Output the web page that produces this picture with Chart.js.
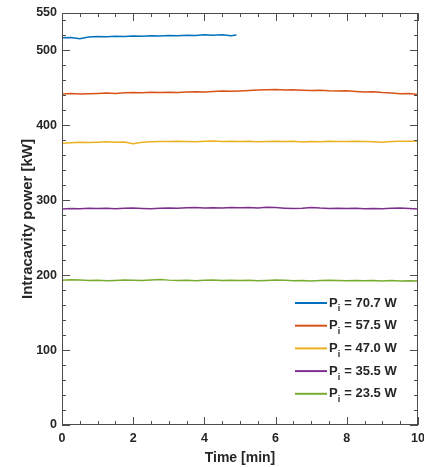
<!DOCTYPE html>
<html>
<head>
<meta charset="utf-8">
<script src="https://cdn.jsdelivr.net/npm/chart.js@4/dist/chart.umd.min.js"></script>
<style>
  html, body { margin: 0; padding: 0; background: #fff; }
  #wrap { width: 424px; height: 467px; }
</style>
</head>
<body>
<div id="wrap"><canvas id="powerChart"></canvas></div>
<script>
// time axis [min]
const times = [0, 0.25, 0.5, 0.75, 1, 1.25, 1.5, 1.75, 2, 2.25, 2.5, 2.75, 3, 3.25, 3.5, 3.75,
  4, 4.25, 4.5, 4.75, 5, 5.25, 5.5, 5.75, 6, 6.25, 6.5, 6.75, 7, 7.25, 7.5, 7.75,
  8, 8.25, 8.5, 8.75, 9, 9.25, 9.5, 9.75, 10];
const blueTimes = [0, 0.25, 0.5, 0.75, 1, 1.25, 1.5, 1.75, 2, 2.25, 2.5, 2.75, 3, 3.25, 3.5, 3.75,
  4, 4.25, 4.5, 4.75, 4.9];

// intracavity power [kW]
const p707 = [517.0, 517.4, 515.6, 517.9, 518.6, 518.2, 518.9, 518.5, 519.3, 519.0, 519.6, 519.2,
  520.1, 519.7, 520.4, 520.0, 520.8, 520.3, 520.9, 519.6, 520.6];
const p575 = [442.0, 442.4, 441.8, 442.3, 442.6, 443.1, 442.7, 443.4, 443.9, 443.5, 444.1, 443.8,
  444.3, 444.0, 444.6, 445.0, 444.7, 445.3, 445.8, 445.4, 446.0, 446.5, 447.1, 447.6,
  447.9, 447.3, 447.6, 447.0, 446.6, 446.9, 446.2, 445.8, 446.1, 445.3, 444.6, 444.9,
  443.8, 443.2, 442.1, 442.6, 441.2];
const p470 = [376.2, 376.8, 377.4, 377.0, 377.6, 378.1, 377.5, 377.9, 375.6, 377.4, 378.2, 378.6,
  378.3, 378.9, 378.5, 378.1, 378.7, 379.0, 378.6, 378.9, 378.3, 378.7, 378.0, 378.5,
  378.8, 378.4, 378.9, 377.8, 378.6, 378.2, 378.8, 378.3, 378.6, 378.9, 378.4, 378.1,
  377.6, 378.3, 378.7, 378.9, 379.2];
const p355 = [288.5, 289.0, 288.7, 289.3, 289.0, 289.4, 288.8, 289.2, 289.6, 289.1, 288.7, 289.4,
  289.8, 289.3, 289.9, 290.2, 289.6, 290.1, 289.7, 290.3, 290.0, 290.4, 289.8, 290.6,
  290.2, 289.5, 289.0, 289.4, 290.5, 289.6, 289.1, 289.5, 288.9, 289.3, 288.8, 289.1,
  288.6, 289.2, 289.7, 289.0, 288.4];
const p235 = [193.4, 193.9, 193.5, 192.9, 193.3, 192.6, 193.0, 193.5, 193.2, 192.8, 193.6, 194.2,
  193.4, 192.9, 193.3, 192.7, 193.1, 193.5, 192.9, 193.3, 192.8, 193.2, 192.6, 193.0,
  193.5, 193.1, 192.7, 193.0, 192.4, 192.9, 193.2, 192.8, 192.5, 193.0, 192.6, 192.9,
  192.4, 192.8, 192.3, 192.7, 192.2];

const seriesLabels = ['70.7', '57.5', '47.0', '35.5', '23.5'];
const seriesColors = ['#0072BD', '#D95319', '#EDB120', '#7E2F8E', '#77AC30'];

const xTickValues = [0, 2, 4, 6, 8, 10];
const yTickValues = [0, 100, 200, 300, 400, 500, 550];

const FONT = '"Liberation Sans", Arial, sans-serif';
const TEXT = '#262626';
const AXIS = '#4d4d4d';

function toPoints(xs, ys) {
  return ys.map((v, i) => ({ x: xs[i], y: v }));
}

// frame + inward ticks on all four sides
const frameTicks = {
  id: 'frameTicks',
  afterDatasetsDraw(chart) {
    const { ctx, chartArea: { left, right, top, bottom }, scales: { x, y } } = chart;
    ctx.save();
    ctx.strokeStyle = AXIS;
    ctx.lineWidth = 1;
    ctx.strokeRect(left + 0.5, top + 0.5, right - left - 1, bottom - top - 1);
    ctx.beginPath();
    for (let v = 0; v <= 10; v += 0.5) {
      const px = Math.round(x.getPixelForValue(v)) + 0.5;
      const len = v % 2 === 0 ? 8 : 4;
      ctx.moveTo(px, bottom); ctx.lineTo(px, bottom - len);
      ctx.moveTo(px, top); ctx.lineTo(px, top + len);
    }
    for (let v = 0; v <= 540; v += 20) {
      const py = Math.round(y.getPixelForValue(v)) + 0.5;
      const len = v % 100 === 0 ? 8 : 4;
      ctx.moveTo(left, py); ctx.lineTo(left + len, py);
      ctx.moveTo(right, py); ctx.lineTo(right - len, py);
    }
    ctx.stroke();
    ctx.restore();
  }
};

// legend with subscript "i"
const subLegend = {
  id: 'subLegend',
  afterDraw(chart) {
    const { ctx, chartArea: { right, bottom } } = chart;
    ctx.save();
    const x0 = right - 123;
    let yy = bottom - 122;
    seriesLabels.forEach((lab, i) => {
      ctx.strokeStyle = seriesColors[i];
      ctx.lineWidth = 2;
      ctx.beginPath();
      ctx.moveTo(x0, yy); ctx.lineTo(x0 + 32, yy);
      ctx.stroke();
      ctx.fillStyle = TEXT;
      ctx.textBaseline = 'middle';
      ctx.font = 'bold 13px ' + FONT;
      ctx.fillText('P', x0 + 34, yy);
      const pw = ctx.measureText('P').width;
      ctx.font = 'bold 9px ' + FONT;
      ctx.fillText('i', x0 + 34 + pw, yy + 6);
      ctx.font = 'bold 13px ' + FONT;
      ctx.fillText(' = ' + lab + ' W', x0 + 34 + pw + 3, yy);
      yy += 22.7;
    });
    ctx.restore();
  }
};

new Chart(document.getElementById('powerChart'), {
  type: 'line',
  data: {
    datasets: [p707, p575, p470, p355, p235].map((vals, i) => ({
      label: 'Pi = ' + seriesLabels[i] + ' W',
      data: toPoints(i === 0 ? blueTimes : times, vals),
      borderColor: seriesColors[i],
      borderWidth: 1.5,
      pointRadius: 0,
      tension: 0,
      fill: false
    }))
  },
  options: {
    responsive: true,
    maintainAspectRatio: false,
    animation: false,
    layout: { padding: { left: 0, right: 6, top: 13, bottom: 0 } },
    plugins: { legend: { display: false }, tooltip: { enabled: false } },
    scales: {
      x: {
        type: 'linear',
        min: 0, max: 10,
        grid: { display: false, drawTicks: false },
        border: { display: false },
        afterBuildTicks: s => { s.ticks = xTickValues.map(v => ({ value: v })); },
        afterFit: s => { s.height = 42; s.paddingLeft = 0; s.paddingRight = 0; },
        ticks: { color: TEXT, font: { family: FONT, size: 12.5, weight: 'bold' }, padding: 6, maxRotation: 0 },
        title: { display: true, text: 'Time [min]', color: TEXT, font: { family: FONT, size: 14, weight: 'bold' }, padding: { top: 1, bottom: 0 } }
      },
      y: {
        min: 0, max: 550,
        grid: { display: false, drawTicks: false },
        border: { display: false },
        afterBuildTicks: s => { s.ticks = yTickValues.map(v => ({ value: v })); },
        afterFit: s => { s.width = 62; s.paddingTop = 0; s.paddingBottom = 0; },
        ticks: { color: TEXT, font: { family: FONT, size: 12.5, weight: 'bold' }, padding: 5 },
        title: { display: true, text: 'Intracavity power [kW]', color: TEXT, font: { family: FONT, size: 15, weight: 'bold' }, padding: { top: 19, bottom: 0 } }
      }
    }
  },
  plugins: [frameTicks, subLegend]
});
</script>
</body>
</html>
